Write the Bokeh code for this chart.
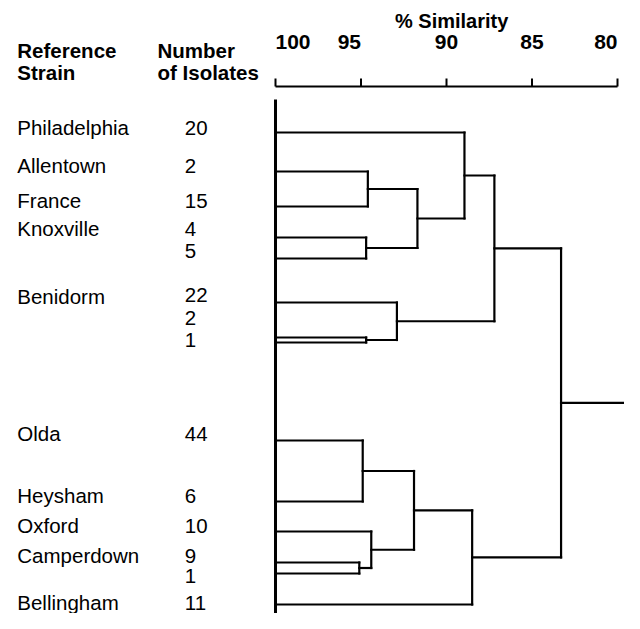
from bokeh.plotting import figure
from bokeh.models import Range1d
from bokeh.core.properties import value
from bokeh.embed import file_html
from bokeh.resources import INLINE

# ---------------- data ----------------
strains = ["Philadelphia", "Allentown", "France", "Knoxville", "Benidorm",
           "Olda", "Heysham", "Oxford", "Camperdown", "Bellingham"]
strain_rows = [127, 165, 200, 228, 296, 433, 495, 525, 555, 602]

isolates = ["20", "2", "15", "4", "5", "22", "2", "1", "44", "6", "10", "9", "1", "11"]
isolate_rows = [127, 165, 200, 228, 250, 294, 317, 339, 433, 495, 525, 555, 575, 602]

# dendrogram leaves (row positions) in drawing order
leaf_rows = [132, 171, 206, 237, 258, 302, 337, 342, 440, 501, 531, 562, 573, 604]

# merges: child a, child b, % similarity  (node ids continue after leaves)
merge_a = [1, 3, 14, 0, 6, 5, 17, 8, 11, 10, 21, 24, 20]
merge_b = [2, 4, 15, 16, 7, 18, 19, 9, 12, 22, 23, 13, 25]
merge_sim = [94.6, 94.7, 91.7, 88.95, 94.7, 92.9, 87.2, 94.9, 95.1, 94.4, 91.9, 88.5, 83.3]
root_end = 79.4

ticks = [100, 95, 90, 85, 80]
tick_labels = ["100", "95", "90", "85", "80"]

# ---------------- figure ----------------
W, H = 624, 613
p = figure(width=W, height=H, output_backend="svg", toolbar_location=None,
           x_range=Range1d(116.082, 79.591), y_range=Range1d(613, 0),
           min_border=0, outline_line_color=None, background_fill_color="white")
p.axis.visible = False
p.grid.visible = False

# build dendrogram segments
node_x = [100.0] * len(leaf_rows)
node_y = list(leaf_rows)
x0, y0, x1, y1 = [], [], [], []
for a, b, s in zip(merge_a, merge_b, merge_sim):
    for c in (a, b):
        x0.append(node_x[c]); y0.append(node_y[c]); x1.append(s); y1.append(node_y[c])
    x0.append(s); y0.append(node_y[a]); x1.append(s); y1.append(node_y[b])
    node_x.append(s)
    node_y.append((node_y[a] + node_y[b]) / 2)
# root stem
x0.append(node_x[-1]); y0.append(node_y[-1]); x1.append(root_end); y1.append(node_y[-1])

p.segment(x0=x0, y0=y0, x1=x1, y1=y1, line_color="black", line_width=2.2, line_cap="square")

# baseline at 100 %
p.segment(x0=[100], y0=[99], x1=[100], y1=[628], line_color="black", line_width=3)

# similarity scale on top
AXIS_Y = 86
TICK_TOP = 78
p.segment(x0=[ticks[0]], y0=[AXIS_Y], x1=[ticks[-1]], y1=[AXIS_Y], line_color="black", line_width=2)
p.segment(x0=ticks, y0=[AXIS_Y] * len(ticks), x1=ticks, y1=[TICK_TOP] * len(ticks),
          line_color="black", line_width=2)
p.text(x=ticks, y=[41] * len(ticks), text=tick_labels,
       text_align=["left", "right", "center", "center", "right"],
       text_baseline="middle", text_font=value("Liberation Sans"),
       text_font_style="bold", text_font_size="21px", text_color="black")
p.text(x=[89.7], y=[20], text=["% Similarity"], text_align="center", text_baseline="middle",
       text_font=value("Liberation Sans"), text_font_style="bold",
       text_font_size="20px", text_color="black")

# column headers
NAME_X = 115.1
COUNT_X = 105.3
HEAD2_X = 106.9
p.text(x=[NAME_X, NAME_X, HEAD2_X, HEAD2_X], y=[50, 72, 50, 72],
       text=["Reference", "Strain", "Number", "of Isolates"],
       text_align="left", text_baseline="middle", text_font=value("Liberation Sans"),
       text_font_style="bold", text_font_size="20.5px", text_color="black")

# strain names and isolate counts
p.text(x=[NAME_X] * len(strains), y=strain_rows, text=strains, text_align="left",
       text_baseline="middle", text_font=value("Liberation Sans"),
       text_font_size="20.5px", text_color="black")
p.text(x=[COUNT_X] * len(isolates), y=isolate_rows, text=isolates, text_align="left",
       text_baseline="middle", text_font=value("Liberation Sans"),
       text_font_size="20.5px", text_color="black")

open("out.html", "w").write(file_html(p, INLINE))
